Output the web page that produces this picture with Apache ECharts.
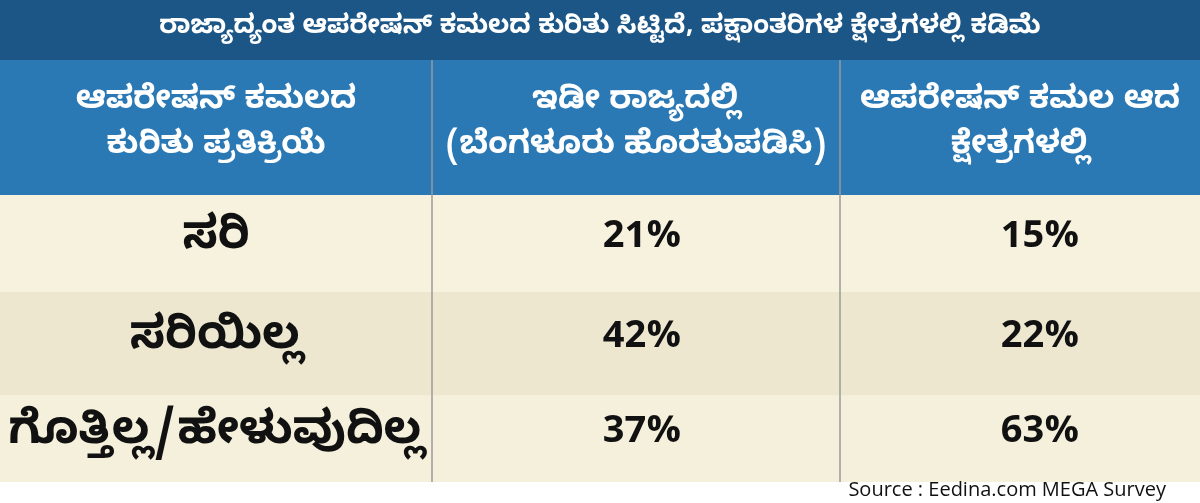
<!DOCTYPE html>
<html><head><meta charset="utf-8">
<script src="https://cdn.jsdelivr.net/npm/echarts@6/dist/echarts.min.js"></script>
<style>html,body{margin:0;padding:0;background:#fff}#c{width:1200px;height:503px}</style>
</head><body><div id="c"></div>
<script>
const title = 'ರಾಜ್ಯಾದ್ಯಂತ ಆಪರೇಷನ್ ಕಮಲದ ಕುರಿತು ಸಿಟ್ಟಿದೆ, ಪಕ್ಷಾಂತರಿಗಳ ಕ್ಷೇತ್ರಗಳಲ್ಲಿ ಕಡಿಮೆ';
const headers = ['ಆಪರೇಷನ್ ಕಮಲದ\nಕುರಿತು ಪ್ರತಿಕ್ರಿಯೆ', 'ಇಡೀ ರಾಜ್ಯದಲ್ಲಿ\n(ಬೆಂಗಳೂರು ಹೊರತುಪಡಿಸಿ)', 'ಆಪರೇಷನ್ ಕಮಲ ಆದ\nಕ್ಷೇತ್ರಗಳಲ್ಲಿ'];
const categories = ['ಸರಿ', 'ಸರಿಯಿಲ್ಲ', 'ಗೊತ್ತಿಲ್ಲ/ಹೇಳುವುದಿಲ್ಲ'];
const stateValues = [21, 42, 37];
const defectorValues = [15, 22, 63];
const source = 'Source : Eedina.com MEGA Survey';

const colEdges = [0, 432, 840, 1200];
const rowEdges = [60, 195, 292, 395, 482];
const rowFills = ['#f6f2de', '#ede7d0', '#f4f0db'];
const F = "'Noto Sans Kannada','Noto Sans','DejaVu Sans',sans-serif";

const cells = [];
cells.push([0, 1200, 0, 60, '#1b5686']);
cells.push([0, 1200, rowEdges[0], rowEdges[1], '#2a78b4']);
for (let r = 0; r < 3; r++) cells.push([0, 1200, rowEdges[r+1], rowEdges[r+2], rowFills[r]]);
cells.push([0, 1200, rowEdges[4], 503, '#ffffff']);

const texts = [];
texts.push([600, 30, title, '#ffffff', 26, 'bold', 'center']);
for (let c = 0; c < 3; c++) texts.push([(colEdges[c]+colEdges[c+1])/2, 127, headers[c], '#ffffff', 32, 'bold', 'center']);
for (let r = 0; r < 3; r++) {
  const y = (rowEdges[r+1] + rowEdges[r+2]) / 2;
  texts.push([216, y, categories[r], '#111111', 46, 'bold', 'center']);
  texts.push([642, y, stateValues[r] + '%', '#111111', 38, 'bold', 'center']);
  texts.push([1040, y, defectorValues[r] + '%', '#111111', 38, 'bold', 'center']);
}
texts.push([1166, 490, source, '#111111', 20, 'normal', 'right', "'Open Sans',sans-serif"]);
const lines = [[432, 60, 482], [840, 60, 482]];

const chart = echarts.init(document.getElementById('c'));
chart.setOption({
  animation: false,
  grid: {left: 0, right: 0, top: 0, bottom: 0},
  xAxis: {type: 'value', min: 0, max: 1200, show: false},
  yAxis: {type: 'value', min: 0, max: 503, inverse: true, show: false},
  series: [
    {type: 'custom', data: cells, renderItem: (p, api) => {
      const a = api.coord([api.value(0), api.value(2)]), b = api.coord([api.value(1), api.value(3)]);
      return {type: 'rect', shape: {x: a[0], y: a[1], width: b[0]-a[0], height: b[1]-a[1]}, style: {fill: cells[p.dataIndex][4]}};
    }},
    {type: 'custom', data: lines, renderItem: (p, api) => {
      const a = api.coord([api.value(0), api.value(1)]), b = api.coord([api.value(0), api.value(2)]);
      return {type: 'line', shape: {x1: a[0], y1: a[1], x2: b[0], y2: b[1]}, style: {stroke: '#9a9a9a', lineWidth: 1.5}};
    }},
    {type: 'custom', data: texts, clip: false, renderItem: (p, api) => {
      const t = texts[p.dataIndex], a = api.coord([t[0], t[1]]);
      return {type: 'text', x: a[0], y: a[1], style: {text: t[2], fill: t[3], fontSize: t[4], fontWeight: t[5], fontFamily: t[7] || F, align: t[6], verticalAlign: 'middle', lineHeight: t[4]*1.4}};
    }}
  ]
});
</script></body></html>
